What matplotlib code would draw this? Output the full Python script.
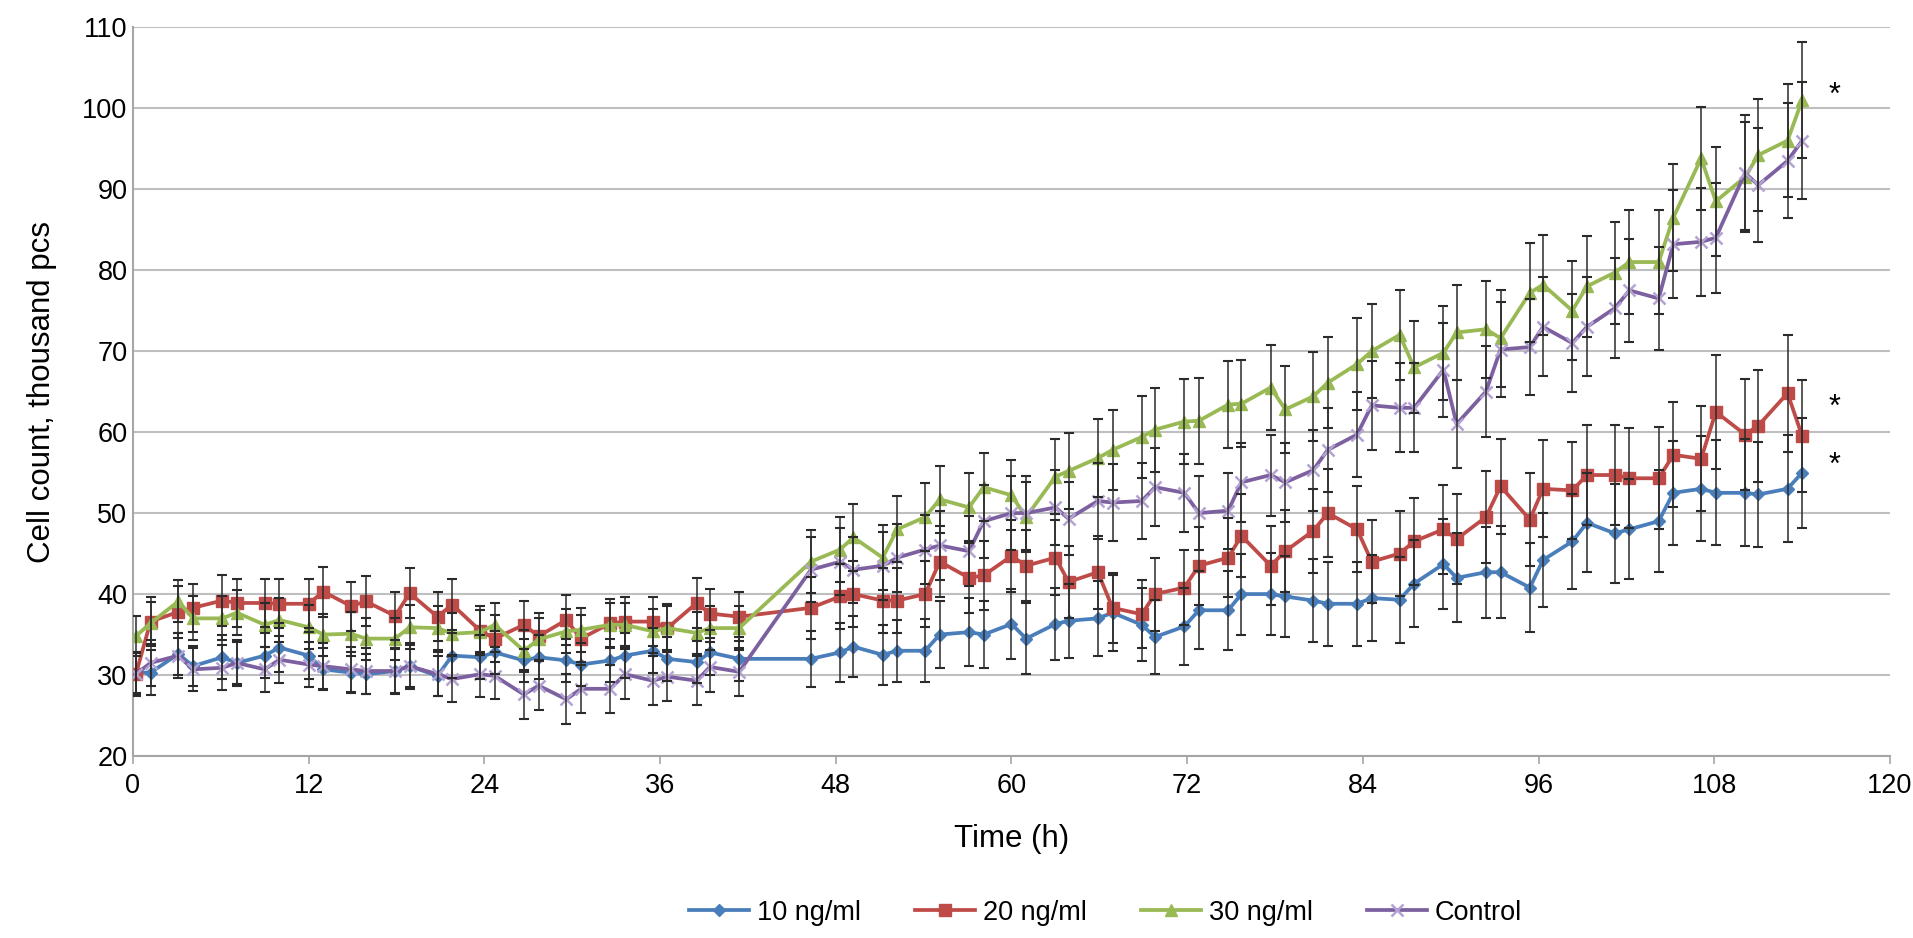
import matplotlib
matplotlib.use('Agg')
import matplotlib.pyplot as plt
import numpy as np

plt.rcParams['font.family'] = ['Liberation Sans', 'DejaVu Sans']

# sampling times (h)
time_h = [0.2, 1.2, 3.1, 4.1, 6.1, 7.1, 9.0, 10.0, 12.0, 13.0,
          14.9, 15.9, 17.9, 18.9, 20.8, 21.8, 23.7, 24.7, 26.7, 27.7,
          29.6, 30.6, 32.6, 33.6, 35.5, 36.5, 38.5, 39.4, 41.4,
          46.3, 48.3, 49.2, 51.2, 52.2, 54.1, 55.1, 57.1, 58.1, 60.0,
          61.0, 63.0, 63.9, 65.9, 66.9, 68.9, 69.8, 71.8, 72.8, 74.8,
          75.7, 77.7, 78.7, 80.6, 81.6, 83.6, 84.6, 86.5, 87.5, 89.5,
          90.4, 92.4, 93.4, 95.4, 96.3, 98.3, 99.3, 101.2, 102.2, 104.2,
          105.2, 107.1, 108.1, 110.1, 111.0, 113.0, 114.0]

# mean cell counts (thousand pcs)
c10 = [30.3, 30.3, 32.6, 31.1, 32.2, 31.5, 32.4, 33.4, 32.4, 30.7,
       30.3, 30.1, 30.5, 31.1, 29.9, 32.4, 32.2, 32.8, 31.8, 32.2,
       31.8, 31.3, 31.8, 32.4, 33.0, 32.0, 31.6, 32.8, 32.0,
       32.0, 32.8, 33.5, 32.5, 33.0, 33.0, 35.0, 35.3, 35.0, 36.3,
       34.5, 36.3, 36.7, 37.0, 37.7, 36.2, 34.7, 36.0, 38.0, 38.0,
       40.0, 40.0, 39.7, 39.2, 38.8, 38.8, 39.5, 39.3, 41.3, 43.7,
       42.0, 42.7, 42.7, 40.8, 44.2, 46.5, 48.8, 47.5, 48.0, 49.0,
       52.5, 53.0, 52.5, 52.5, 52.3, 53.0, 55.0]
c20 = [30.1, 36.6, 37.8, 38.3, 39.2, 38.9, 38.9, 38.8, 38.8, 40.3,
       38.5, 39.1, 37.3, 40.1, 37.2, 38.7, 35.5, 34.5, 36.2, 34.8,
       36.8, 34.5, 36.4, 36.6, 36.6, 35.8, 38.9, 37.6, 37.2,
       38.3, 39.7, 40.0, 39.2, 39.2, 40.0, 44.0, 42.0, 42.3, 44.7,
       43.5, 44.5, 41.5, 42.7, 38.3, 37.5, 40.0, 40.8, 43.5, 44.5,
       47.2, 43.5, 45.3, 47.8, 50.0, 48.0, 44.0, 45.0, 46.5, 48.0,
       46.8, 49.5, 53.3, 49.2, 53.0, 52.8, 54.7, 54.7, 54.3, 54.3,
       57.2, 56.7, 62.5, 59.7, 60.8, 64.8, 59.5]
c30 = [34.8, 36.4, 39.1, 37.0, 37.0, 37.7, 36.2, 36.8, 35.9, 35.0,
       35.1, 34.5, 34.5, 35.9, 35.8, 35.1, 35.3, 36.2, 33.0, 34.4,
       35.4, 35.6, 36.2, 36.2, 35.4, 35.8, 35.2, 35.8, 35.8,
       44.0, 45.5, 47.0, 44.5, 48.0, 49.5, 51.7, 50.7, 53.2, 52.2,
       49.5, 54.5, 55.2, 56.8, 57.8, 59.4, 60.3, 61.3, 61.4, 63.4,
       63.5, 65.5, 62.8, 64.4, 66.1, 68.4, 70.0, 72.0, 68.0, 69.8,
       72.3, 72.7, 71.6, 77.2, 78.2, 75.0, 78.0, 79.7, 81.0, 81.0,
       86.5, 93.8, 88.5, 91.5, 94.2, 96.0, 101.0]
ctrl = [30.1, 31.5, 32.4, 30.7, 30.9, 31.5, 30.7, 31.9, 31.3, 31.1,
        30.7, 30.5, 30.5, 31.1, 30.1, 29.5, 30.1, 29.9, 27.6, 28.7,
        27.0, 28.3, 28.3, 30.1, 29.3, 29.8, 29.3, 31.0, 30.4,
        43.0, 44.0, 43.0, 43.5, 44.5, 45.5, 46.0, 45.3, 49.0, 50.0,
        50.0, 50.7, 49.3, 51.5, 51.3, 51.5, 53.2, 52.5, 50.0, 50.3,
        53.8, 54.7, 53.8, 55.3, 57.8, 59.7, 63.3, 63.0, 63.0, 67.7,
        61.0, 65.0, 70.2, 70.5, 73.0, 71.0, 73.0, 75.3, 77.5, 76.5,
        83.2, 83.5, 84.0, 92.0, 90.5, 93.5, 96.0]

# standard deviations (error bars)
sd10 = [2.5, 2.8, 2.6, 2.5, 2.7, 2.6, 2.8, 3.0, 2.9, 2.6,
        2.5, 2.5, 2.7, 2.6, 2.5, 2.8, 2.7, 2.7, 2.6, 2.7,
        2.6, 2.7, 2.6, 2.8, 2.8, 2.7, 2.6, 2.8, 2.7,
        3.5, 3.6, 3.8, 3.7, 3.8, 3.9, 4.1, 4.2, 4.1, 4.3,
        4.4, 4.5, 4.6, 4.6, 4.7, 4.5, 4.6, 4.7, 4.8, 4.9,
        5.0, 5.1, 5.0, 5.1, 5.2, 5.2, 5.3, 5.3, 5.4, 5.6,
        5.5, 5.6, 5.7, 5.5, 5.8, 5.9, 6.1, 6.1, 6.2, 6.3,
        6.4, 6.5, 6.5, 6.6, 6.5, 6.6, 6.8]
sd20 = [2.6, 3.0, 3.2, 3.0, 3.1, 3.0, 3.0, 3.0, 3.0, 3.1,
        3.0, 3.1, 3.0, 3.1, 3.0, 3.1, 3.0, 2.9, 3.0, 2.9,
        3.1, 2.9, 3.0, 3.0, 3.0, 3.0, 3.1, 3.0, 3.0,
        3.8, 4.0, 4.1, 4.0, 4.0, 4.1, 4.4, 4.3, 4.3, 4.5,
        4.4, 4.6, 4.4, 4.5, 4.3, 4.2, 4.5, 4.6, 4.8, 4.9,
        5.1, 4.9, 5.1, 5.2, 5.4, 5.3, 5.1, 5.2, 5.4, 5.5,
        5.5, 5.7, 5.9, 5.7, 6.0, 6.0, 6.2, 6.2, 6.2, 6.3,
        6.5, 6.5, 7.0, 6.8, 6.9, 7.2, 6.9]
sd30 = [2.5, 2.6, 2.6, 2.7, 2.7, 2.8, 2.7, 2.7, 2.7, 2.6,
        2.7, 2.6, 2.6, 2.7, 2.7, 2.6, 2.7, 2.7, 2.6, 2.6,
        2.7, 2.7, 2.7, 2.7, 2.7, 2.7, 2.6, 2.7, 2.7,
        3.9, 4.0, 4.1, 4.0, 4.1, 4.2, 4.1, 4.2, 4.2, 4.3,
        4.3, 4.6, 4.7, 4.8, 4.9, 5.1, 5.2, 5.3, 5.3, 5.4,
        5.4, 5.3, 5.4, 5.5, 5.6, 5.7, 5.8, 5.6, 5.7, 5.8,
        5.9, 6.0, 6.0, 6.1, 6.2, 6.1, 6.2, 6.3, 6.4, 6.4,
        6.6, 6.4, 6.7, 6.8, 6.9, 7.0, 7.2]
sdc = [2.7, 2.8, 2.8, 2.7, 2.8, 2.8, 2.8, 2.9, 2.8, 2.8,
       2.8, 2.8, 2.8, 2.8, 2.7, 2.8, 2.8, 2.9, 3.0, 3.0,
       3.1, 3.0, 3.0, 3.1, 3.0, 3.0, 3.0, 3.1, 3.0,
       4.0, 4.1, 4.1, 4.2, 4.2, 4.3, 4.3, 4.3, 4.5, 4.6,
       4.6, 4.6, 4.5, 4.7, 4.7, 4.7, 4.8, 4.8, 4.6, 4.7,
       4.9, 5.0, 4.9, 5.0, 5.2, 5.3, 5.5, 5.5, 5.5, 5.8,
       5.4, 5.6, 5.9, 5.9, 6.1, 6.0, 6.1, 6.2, 6.4, 6.3,
       6.7, 6.7, 6.8, 7.1, 7.0, 7.1, 7.2]

labels = ['10 ng/ml', '20 ng/ml', '30 ng/ml', 'Control']
# significance marks (time, value)
star_t = [115.8, 115.8, 115.8]
star_v = [101.5, 63.0, 55.8]

series = [
    (c10, sd10, '#4A7EBB', 'D', 6.5, '#4A7EBB'),
    (c20, sd20, '#BE4B48', 's', 8.5, '#BE4B48'),
    (c30, sd30, '#98B954', '^', 8.5, '#98B954'),
    (ctrl, sdc, '#7D60A0', 'x', 8, '#B4A3D3'),
]

FS = 19.5      # tick labels, legend
FS_LAB = 22.5  # axis titles

fig = plt.figure(figsize=(19.13, 9.38), dpi=100)
ax = fig.add_axes([0.0695, 0.194, 0.9185, 0.777])

for (vals, sd, col, mk, ms, mcol), lab in zip(series, labels):
    ax.plot(time_h, vals, color=col, lw=2.7, marker=mk, ms=ms,
            markerfacecolor=mcol, markeredgecolor=mcol, mew=1.8 if mk == 'x' else 1,
            label=lab, zorder=3)
    ax.errorbar(time_h, vals, yerr=sd, fmt='none', ecolor='#2b2b2b',
                elinewidth=1.1, capsize=3.5, capthick=1.5, zorder=4)

for t, v in zip(star_t, star_v):
    ax.text(t, v, '*', fontsize=22, ha='left', va='center', color='black')

ax.set_xlim(0, 120)
ax.set_ylim(20, 110)
ax.set_xticks(np.arange(0, 121, 12))
ax.set_yticks(np.arange(20, 111, 10))
ax.yaxis.grid(True, color='#BFBFBF', lw=1.5)
ax.set_axisbelow(True)
for s in ['top', 'right']:
    ax.spines[s].set_visible(False)
for s in ['left', 'bottom']:
    ax.spines[s].set_color('#A6A6A6')
    ax.spines[s].set_linewidth(1.5)
ax.tick_params(axis='x', length=6, width=1.2, color='#A6A6A6', labelsize=FS, pad=6)
ax.tick_params(axis='y', length=0, labelsize=FS, pad=4)

ax.set_xlabel('Time (h)', fontsize=FS_LAB, labelpad=18)
ax.set_ylabel('Cell count, thousand pcs', fontsize=FS_LAB, labelpad=18)

fig.legend(loc='center', bbox_to_anchor=(0.578, 0.027), ncol=4, frameon=False,
           fontsize=FS, handlelength=2.2, columnspacing=2.0, handletextpad=0.3)

fig.savefig('out.png', dpi=100)
